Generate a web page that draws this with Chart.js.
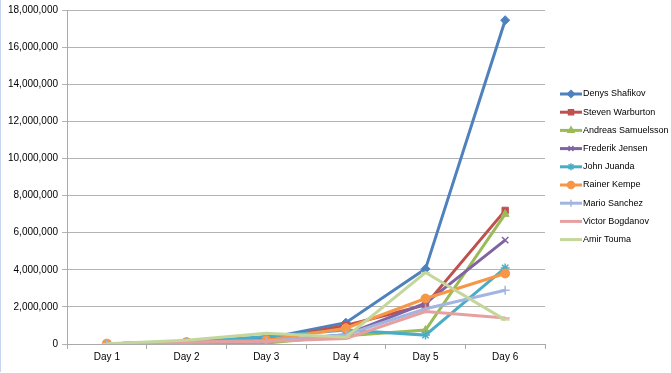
<!DOCTYPE html>
<html>
<head>
<meta charset="utf-8">
<script src="https://cdn.jsdelivr.net/npm/chart.js@4"></script>
<style>
  html, body { margin: 0; padding: 0; background: #fff; }
  #wrap { position: relative; width: 671px; height: 373px; }
  #wrap::before { content: ""; position: absolute; left: 0; top: 0; width: 1px; height: 372px; background: #c8d4ee; }
</style>
</head>
<body>
<div id="wrap"><canvas id="chart" width="671" height="373"></canvas></div>
<script>
const days = ["Day 1", "Day 2", "Day 3", "Day 4", "Day 5", "Day 6"];

const players = [
  "Denys Shafikov", "Steven Warburton", "Andreas Samuelsson", "Frederik Jensen",
  "John Juanda", "Rainer Kempe", "Mario Sanchez", "Victor Bogdanov", "Amir Touma"
];

const denys    = [20000, 100000, 300000, 1150000, 4050000, 17450000];
const steven   = [20000, 100000, 200000, 1000000, 2100000, 7200000];
const andreas  = [20000, 100000, 50000, 450000, 750000, 7000000];
const frederik = [20000, 100000, 150000, 500000, 2200000, 5600000];
const john     = [20000, 100000, 400000, 750000, 480000, 4100000];
const rainer   = [20000, 100000, 200000, 850000, 2450000, 3800000];
const mario    = [20000, 100000, 150000, 500000, 1900000, 2900000];
const victor   = [20000, 100000, 150000, 300000, 1750000, 1400000];
const amir     = [20000, 200000, 580000, 370000, 3850000, 1300000];

const series = [denys, steven, andreas, frederik, john, rainer, mario, victor, amir];
const colors = ["#4F81BD", "#C0504D", "#9BBB59", "#8064A2", "#4BACC6",
                "#F79646", "#A2B5E0", "#E6A0A0", "#C3D69B"];
const markers = ["rectRot", "rect", "triangle", "crossRot", "star",
                 "circle", "cross", "line", "line"];

const datasets = series.map((data, i) => ({
  label: players[i],
  data: data,
  borderColor: colors[i],
  backgroundColor: colors[i],
  borderWidth: 3,
  pointStyle: markers[i],
  pointRadius: 4.5,
  pointBorderWidth: ["crossRot", "star", "cross", "line"].includes(markers[i]) ? 1.5 : 1,
  tension: 0,
  order: series.length - 1 - i
}));

// legend drawn by hand so it matches the excel look (line + marker)
const sideLegend = {
  id: "sideLegend",
  afterDraw(chart) {
    const ctx = chart.ctx;
    const x0 = 560, y0 = 94, step = 18.2;
    ctx.save();
    ctx.font = "9px 'Liberation Sans', Arial, sans-serif";
    ctx.textBaseline = "middle";
    chart.data.datasets.forEach((ds, i) => {
      const y = y0 + i * step;
      ctx.strokeStyle = ds.borderColor;
      ctx.lineWidth = 3;
      ctx.beginPath();
      ctx.moveTo(x0, y);
      ctx.lineTo(x0 + 22, y);
      ctx.stroke();
      if (ds.pointStyle !== "line") {
        ctx.lineWidth = 1.5;
        ctx.fillStyle = ds.backgroundColor;
        Chart.helpers.drawPoint(ctx, { pointStyle: ds.pointStyle, radius: 3.5, rotation: 0, borderWidth: 1.5 }, x0 + 11, y);
      }
      ctx.fillStyle = "#000";
      ctx.fillText(ds.label, x0 + 23, y);
    });
    ctx.restore();
  }
};

new Chart(document.getElementById("chart"), {
  type: "line",
  data: { labels: days, datasets: datasets },
  options: {
    responsive: false,
    animation: false,
    layout: { padding: { top: -2, right: 126, bottom: 8, left: 4 } },
    plugins: { legend: { display: false }, tooltip: { enabled: false } },
    scales: {
      x: {
        offset: true,
        grid: { offset: true, drawOnChartArea: false, color: "#aaa", tickLength: 5 },
        border: { color: "#aaa" },
        ticks: { color: "#000", font: { family: "'Liberation Sans', Arial, sans-serif", size: 10 }, padding: 2 }
      },
      y: {
        min: 0,
        max: 18000000,
        grid: { color: "#b3b3b3", tickLength: 5 },
        border: { color: "#aaa" },
        ticks: {
          stepSize: 2000000,
          color: "#000",
          font: { family: "'Liberation Sans', Arial, sans-serif", size: 10 },
          padding: 4,
          callback: (v) => v.toLocaleString("en-US")
        }
      }
    }
  },
  plugins: [sideLegend]
});
</script>
</body>
</html>
